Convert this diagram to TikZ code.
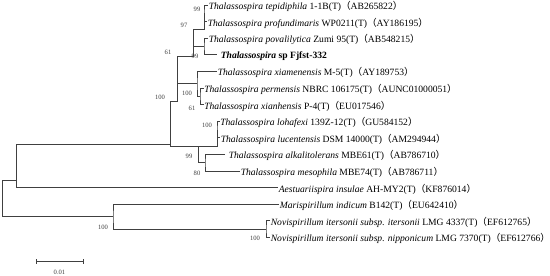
\documentclass[tikz,border=0pt]{standalone}
\usepackage{fontspec}
\setmainfont{Liberation Serif}
\newfontfamily\cjkfont{Noto Sans CJK SC}
\newcommand\fwl{{\cjkfont （}}
\newcommand\fwr{{\cjkfont ）}}
\begin{document}
\begin{tikzpicture}[x=1pt,y=-1pt,
  br/.style={draw=black!75,line width=0.9pt},
  lf/.style={anchor=west,inner sep=0.6pt,font=\fontsize{9.6}{11}\selectfont},
  bs/.style={inner sep=0pt,font=\fontsize{6.6}{8}\selectfont,text=black!75}]
\useasboundingbox[fill=white] (0,0) rectangle (550,276);
% internal nodes
\coordinate (R) at (2,180.6);
\coordinate (A) at (16,144.5);
\coordinate (C) at (170,101.5);
\coordinate (D) at (177,56.9);
\coordinate (H) at (193,29.9);
\coordinate (I) at (204,13.3);
\coordinate (J) at (204,46.5);
\coordinate (F) at (197,83.9);
\coordinate (G) at (200,96.3);
\coordinate (E) at (198,146.1);
\coordinate (K) at (217,129.5);
\coordinate (L) at (205,162.7);
\coordinate (B) at (113,216.7);
\coordinate (N) at (266,229.1);
% leaf tips
\coordinate (t1) at (208,5);
\coordinate (t2) at (207,21.6);
\coordinate (t3) at (208,38.2);
\coordinate (t4) at (217,54.8);
\coordinate (t5) at (217,71.4);
\coordinate (t6) at (203.5,88);
\coordinate (t7) at (203.5,104.6);
\coordinate (t8) at (219.5,121.2);
\coordinate (t9) at (220,137.8);
\coordinate (t10) at (225,154.4);
\coordinate (t11) at (240,171);
\coordinate (t12) at (278,187.6);
\coordinate (t13) at (279,204.2);
\coordinate (t14) at (270,220.8);
\coordinate (t15) at (270,237.4);
% branches
\draw[br] (A) |- (R) |- (B);
\draw[br] (C) |- (A) |- (t12);
\draw[br] (D) |- (C) |- (E);
\draw[br] (H) |- (D) |- (F);
\draw[br] (I) |- (H) |- (J);
\draw[br] (t1) -| (I) |- (t2);
\draw[br] (t3) -| (J) |- (t4);
\draw[br] (t5) -| (F) |- (G);
\draw[br] (t6) -| (G) |- (t7);
\draw[br] (K) |- (E) |- (L);
\draw[br] (t8) -| (K) |- (t9);
\draw[br] (t10) -| (L) |- (t11);
\draw[br] (t13) -| (B) |- (N);
\draw[br] (t14) -| (N) |- (t15);
% leaf labels
\node[lf] (n1) at ([yshift=-1.5pt]t1) {\textit{Thalassospira tepidiphila} 1-1B(T)\fwl AB265822\fwr};
\node[lf] (n2) at ([yshift=-1.5pt]t2) {\textit{Thalassospira profundimaris} WP0211(T)\fwl AY186195\fwr};
\node[lf] (n3) at ([yshift=-1.5pt]t3) {\textit{Thalassospira povalilytica} Zumi 95(T)\fwl AB548215\fwr};
\node[lf,xshift=3pt] (n4) at ([yshift=-1.5pt]t4) {\textbf{\textit{Thalassospira} sp Fjfst-332}};
\node[lf] (n5) at ([yshift=-1.5pt]t5) {\textit{Thalassospira xiamenensis} M-5(T)\fwl AY189753\fwr};
\node[lf] (n6) at ([yshift=-1.5pt]t6) {\textit{Thalassospira permensis} NBRC 106175(T)\fwl AUNC01000051\fwr};
\node[lf] (n7) at ([yshift=-1.5pt]t7) {\textit{Thalassospira xianhensis} P-4(T)\fwl EU017546\fwr};
\node[lf] (n8) at ([yshift=-1.5pt]t8) {\textit{Thalassospira lohafexi} 139Z-12(T)\fwl GU584152\fwr};
\node[lf] (n9) at ([yshift=-1.5pt]t9) {\textit{Thalassospira lucentensis} DSM 14000(T)\fwl AM294944\fwr};
\node[lf,xshift=3pt] (n10) at ([yshift=-1.5pt]t10) {\textit{Thalassospira alkalitolerans} MBE61(T)\fwl AB786710\fwr};
\node[lf] (n11) at ([yshift=-1.5pt]t11) {\textit{Thalassospira mesophila} MBE74(T)\fwl AB786711\fwr};
\node[lf] (n12) at ([yshift=-1.5pt]t12) {\textit{Aestuariispira insulae} AH-MY2(T)\fwl KF876014\fwr};
\node[lf] (n13) at ([yshift=-1.5pt]t13) {\textit{Marispirillum indicum} B142(T)\fwl EU642410\fwr};
\node[lf] (n14) at ([yshift=-1.5pt]t14) {\textit{Novispirillum itersonii subsp. itersonii} LMG 4337(T)\fwl EF612765\fwr};
\node[lf] (n15) at ([yshift=-1.5pt]t15) {\textit{Novispirillum itersonii subsp. nipponicum} LMG 7370(T)\fwl EF612766\fwr};
% bootstrap values
\node[bs] (b1) at (197,9) {99};
\node[bs] (b2) at (195,56) {99};
\node[bs] (b3) at (184,25) {97};
\node[bs] (b4) at (168,52) {61};
\node[bs] (b5) at (160,97.5) {100};
\node[bs] (b6) at (187,93) {100};
\node[bs] (b7) at (192,108) {61};
\node[bs] (b8) at (207,125) {100};
\node[bs] (b9) at (189,156) {99};
\node[bs] (b10) at (197,173) {80};
\node[bs] (b11) at (103,227) {100};
\node[bs] (b12) at (255,238) {100};
% scale bar
\coordinate (s1) at (36,261);
\coordinate (s2) at (83,261);
\draw[br] (s1) -- (s2);
\draw[br] ([yshift=-2.5pt]s1) -- ([yshift=2.5pt]s1);
\draw[br] ([yshift=-2.5pt]s2) -- ([yshift=2.5pt]s2);
\node[bs] (sl) at (59.5,272) {0.01};
\end{tikzpicture}
\end{document}
